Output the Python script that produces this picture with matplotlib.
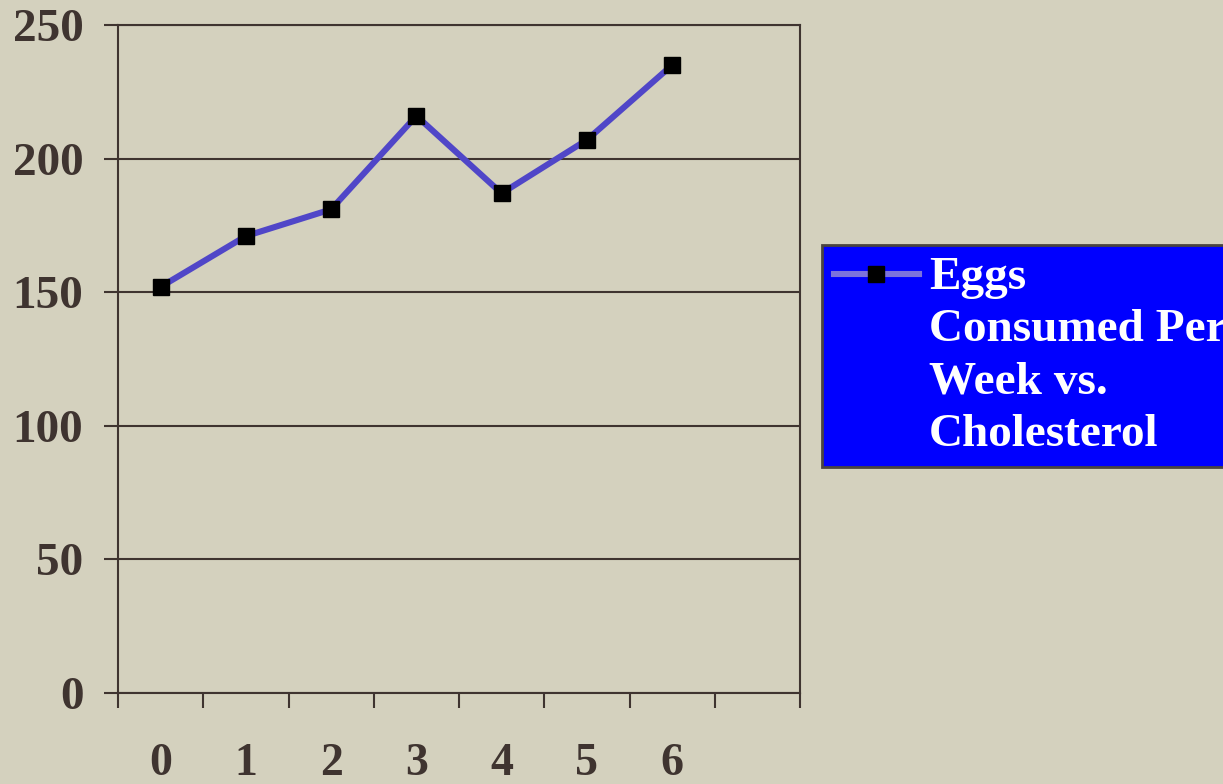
import matplotlib.pyplot as plt
from matplotlib.legend_handler import HandlerLine2D
import numpy as np

eggs = [0, 1, 2, 3, 4, 5, 6]
cholesterol = [152, 171, 181, 216, 187, 207, 235]
yticks = [0, 50, 100, 150, 200, 250]
label = "Eggs\nConsumed Per\nWeek vs.\nCholesterol"

plt.rcParams['font.family'] = ['Liberation Serif', 'DejaVu Serif']
plt.rcParams['font.weight'] = 'bold'
dark = '#3f3430'


class TopLineHandler(HandlerLine2D):
    # put the legend handle beside the first line of the label
    def create_artists(self, legend, orig_handle, xdescent, ydescent,
                       width, height, fontsize, trans):
        arts = super().create_artists(legend, orig_handle, xdescent, ydescent,
                                      width, height, fontsize, trans)
        for a in arts:
            a.set_ydata(np.asarray(a.get_ydata()) + 1.72 * fontsize)
        return arts


fig = plt.figure(figsize=(12.23, 7.84), dpi=100)
fig.patch.set_facecolor('#d4d1be')
ax = fig.add_axes([118/1223, 1-693/784, 682/1223, 668/784])
ax.set_facecolor('none')

x = np.array(eggs) + 0.5
line, = ax.plot(x, cholesterol, color='#5046c8', lw=4.4, marker='s', ms=11.5,
                mfc='black', mec='black', label=label, zorder=3)

ax.set_xlim(0, 8)
ax.set_ylim(0, 250)
ax.set_yticks(yticks)
ax.yaxis.grid(True, color=dark, lw=1.5)
ax.set_axisbelow(True)
for s in ax.spines.values():
    s.set_color(dark)
    s.set_linewidth(1.5)

ax.set_xticks(range(9))
ax.set_xticklabels([])
ax.set_xticks(x, [str(e) for e in eggs], minor=True)
ax.tick_params(axis='x', which='major', direction='out', length=11, width=1.5, color=dark)
ax.tick_params(axis='x', which='minor', length=0, pad=36, labelsize=33, labelcolor=dark)
ax.tick_params(axis='y', direction='out', length=10, width=1.5, color=dark,
               pad=15, labelsize=34, labelcolor=dark)

leg = fig.legend(handles=[line], loc='upper left', bbox_to_anchor=(822/1223, 1-245/784),
                 borderaxespad=0, fontsize=34, frameon=True, fancybox=False,
                 handlelength=1.8, handletextpad=0.22, borderpad=0.25,
                 handler_map={line: TopLineHandler()})
leg.get_frame().set_facecolor('#0000ff')
leg.get_frame().set_edgecolor('#4a4440')
leg.get_frame().set_linewidth(2)
leg.get_frame().set_alpha(1)
for t in leg.get_texts():
    t.set_color('white')
    t.set_linespacing(1.32)
for h in leg.legend_handles:
    h.set_color('#7c72dc')
    h.set_markerfacecolor('black')
    h.set_markeredgecolor('black')

fig.savefig('out.png', dpi=100, facecolor=fig.get_facecolor())
